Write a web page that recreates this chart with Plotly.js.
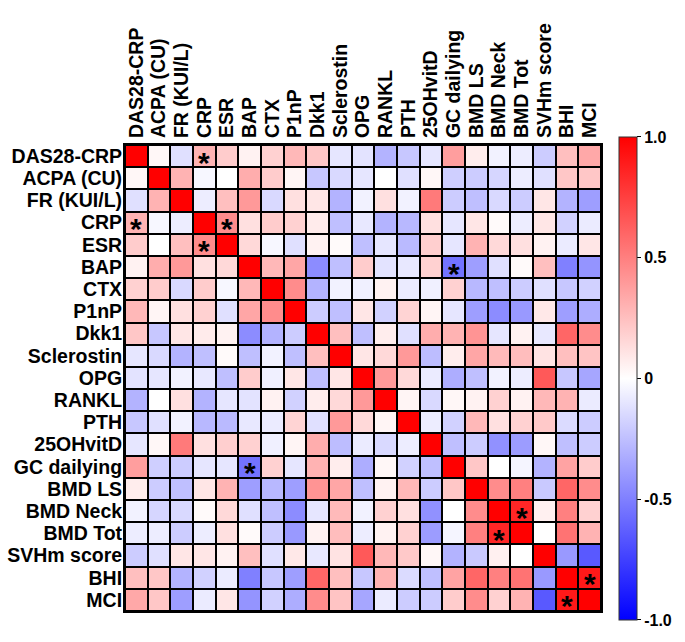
<!DOCTYPE html>
<html><head><meta charset="utf-8">
<script src="https://cdn.plot.ly/plotly-3.0.1.min.js"></script>
<style>html,body{margin:0;padding:0;background:#fff;}#chart{width:685px;height:642px;}</style>
</head><body><div id="chart"></div>
<script>
const labels = ["DAS28-CRP","ACPA (CU)","FR (KUI/L)","CRP","ESR","BAP","CTX","P1nP","Dkk1","Sclerostin","OPG","RANKL","PTH","25OHvitD","GC dailying","BMD LS","BMD Neck","BMD Tot","SVHm score","BHI","MCI"];

// correlation matrix, rows in label order
const rDAS28  = [1.00, 0.03,-0.12, 0.30, 0.20, 0.05, 0.18, 0.28, 0.22,-0.10,-0.11,-0.30,-0.22,-0.10, 0.38, 0.07,-0.05,-0.07,-0.20, 0.25, 0.34];
const rACPA   = [0.03, 1.00, 0.30,-0.03, 0.00, 0.32, 0.20, 0.04,-0.22,-0.15,-0.10, 0.00,-0.12, 0.03,-0.19,-0.20,-0.16,-0.07,-0.12, 0.22, 0.22];
const rFR     = [-0.12, 0.30, 1.00,-0.07, 0.25, 0.40,-0.15, 0.12, 0.10,-0.30,-0.05, 0.12,-0.05, 0.52,-0.20,-0.25,-0.15,-0.20, 0.10,-0.30,-0.38];
const rCRP    = [0.30,-0.03,-0.07, 1.00, 0.45, 0.12, 0.20, 0.18, 0.08,-0.25,-0.09,-0.30,-0.28, 0.12,-0.10, 0.10, 0.02,-0.07, 0.10,-0.18,-0.08];
const rESR    = [0.20, 0.00, 0.25, 0.45, 1.00, 0.15,-0.03,-0.12, 0.05, 0.02,-0.25,-0.10,-0.27, 0.19,-0.10, 0.30, 0.15, 0.12, 0.05,-0.08, 0.10];
const rBAP    = [0.05, 0.32, 0.40, 0.12, 0.15, 1.00, 0.28, 0.35,-0.45,-0.25, 0.20,-0.11,-0.09, 0.18,-0.55,-0.38,-0.12, 0.02, 0.25,-0.50,-0.42];
const rCTX    = [0.18, 0.20,-0.15, 0.20,-0.03, 0.28, 1.00, 0.45,-0.30,-0.05,-0.06, 0.05,-0.08,-0.06, 0.18,-0.28,-0.25,-0.20,-0.12,-0.22,-0.18];
const rP1nP   = [0.28, 0.04, 0.12, 0.18,-0.12, 0.35, 0.45, 1.00,-0.20,-0.25, 0.10,-0.18, 0.17, 0.04,-0.10,-0.38,-0.45,-0.40, 0.09,-0.38,-0.32];
const rDkk1   = [0.22,-0.22, 0.10, 0.08, 0.05,-0.45,-0.30,-0.20, 1.00, 0.25,-0.25, 0.07,-0.12, 0.32, 0.30, 0.42,-0.10, 0.05,-0.09, 0.60, 0.45];
const rScl    = [-0.10,-0.15,-0.30,-0.25, 0.02,-0.25,-0.05,-0.25, 0.25, 1.00, 0.10, 0.15, 0.40,-0.26, 0.07, 0.35, 0.27, 0.26, 0.11, 0.25, 0.23];
const rOPG    = [-0.11,-0.10,-0.05,-0.09,-0.25, 0.20,-0.06, 0.10,-0.25, 0.10, 1.00, 0.40, 0.15,-0.08,-0.32,-0.25,-0.05,-0.07, 0.65,-0.22,-0.35];
const rRANKL  = [-0.30, 0.00, 0.12,-0.30,-0.10,-0.11, 0.05,-0.18, 0.07, 0.15, 0.40, 1.00, 0.04,-0.15, 0.03, 0.05, 0.18, 0.05, 0.28, 0.30,-0.08];
const rPTH    = [-0.22,-0.12,-0.05,-0.28,-0.27,-0.09,-0.08, 0.17,-0.12, 0.40, 0.15, 0.04, 1.00,-0.07,-0.18, 0.28, 0.12, 0.18, 0.21,-0.14,-0.20];
const r25OH   = [-0.10, 0.03, 0.52, 0.12, 0.19, 0.18,-0.06, 0.04, 0.32,-0.26,-0.08,-0.15,-0.07, 1.00,-0.25,-0.20,-0.43,-0.39, 0.03,-0.25,-0.20];
const rGC     = [0.38,-0.19,-0.20,-0.10,-0.10,-0.55, 0.18,-0.10, 0.30, 0.07,-0.32, 0.03,-0.18,-0.25, 1.00, 0.22, 0.00,-0.04,-0.30, 0.36, 0.20];
const rBMDLS  = [0.07,-0.20,-0.25, 0.10, 0.30,-0.38,-0.28,-0.38, 0.42, 0.35,-0.25, 0.05, 0.28,-0.20, 0.22, 1.00, 0.45, 0.50,-0.21, 0.60, 0.45];
const rBMDNk  = [-0.05,-0.16,-0.15, 0.02, 0.15,-0.12,-0.25,-0.45,-0.10, 0.27,-0.05, 0.18, 0.12,-0.43, 0.00, 0.45, 1.00, 0.85, 0.06, 0.50, 0.18];
const rBMDTot = [-0.07,-0.07,-0.20,-0.07, 0.12, 0.02,-0.20,-0.40, 0.05, 0.26,-0.07, 0.05, 0.18,-0.39,-0.04, 0.50, 0.85, 1.00, 0.00, 0.55, 0.30];
const rSVHm   = [-0.20,-0.12, 0.10, 0.10, 0.05, 0.25,-0.12, 0.09,-0.09, 0.11, 0.65, 0.28, 0.21, 0.03,-0.30,-0.21, 0.06, 0.00, 1.00,-0.40,-0.65];
const rBHI    = [0.25, 0.22,-0.30,-0.18,-0.08,-0.50,-0.22,-0.38, 0.60, 0.25,-0.22, 0.30,-0.14,-0.25, 0.36, 0.60, 0.50, 0.55,-0.40, 1.00, 0.90];
const rMCI    = [0.34, 0.22,-0.38,-0.08, 0.10,-0.42,-0.18,-0.32, 0.45, 0.23,-0.35,-0.08,-0.20,-0.20, 0.20, 0.45, 0.18, 0.30,-0.65, 0.90, 1.00];

const z = [rDAS28,rACPA,rFR,rCRP,rESR,rBAP,rCTX,rP1nP,rDkk1,rScl,rOPG,rRANKL,rPTH,r25OH,rGC,rBMDLS,rBMDNk,rBMDTot,rSVHm,rBHI,rMCI];

// significant pairs [row, column]
const stars = [["DAS28-CRP","CRP"],["CRP","DAS28-CRP"],["CRP","ESR"],["ESR","CRP"],["BAP","GC dailying"],["GC dailying","BAP"],["BMD Neck","BMD Tot"],["BMD Tot","BMD Neck"],["BHI","MCI"],["MCI","BHI"]];

const colorbarTicks = [-1, -0.5, 0, 0.5, 1];
const colorbarTickText = ["-1.0","-0.5","0","0.5","1.0"];

const font = "Liberation Sans, Arial, sans-serif";
const n = labels.length;

const trace = {
  type: "heatmap",
  x: labels, y: labels, z: z,
  zmin: -1, zmax: 1,
  colorscale: [[0,"rgb(0,0,255)"],[0.5,"rgb(255,255,255)"],[1,"rgb(255,0,0)"]],
  xgap: 2, ygap: 2,
  hoverinfo: "skip",
  colorbar: {
    x: 1.038, xanchor: "left", xpad: 0,
    y: 0.499, yanchor: "middle", ypad: 0,
    len: 483, lenmode: "pixels",
    thickness: 18, thicknessmode: "pixels",
    outlinewidth: 1, outlinecolor: "#333",
    tickvals: colorbarTicks, ticktext: colorbarTickText,
    ticks: "outside", ticklen: 4, tickcolor: "#000",
    tickfont: {family: font, size: 16, color: "#000", weight: "bold"}
  }
};

const annotations = stars.map(([r, c]) => ({
  x: c, y: r, xref: "x", yref: "y", text: "*", showarrow: false,
  font: {family: font, size: 30, color: "#000", weight: "bold"},
  yshift: -6
}));

const layout = {
  width: 685, height: 642,
  margin: {l: 125, r: 84, t: 145, b: 31},
  paper_bgcolor: "#fff", plot_bgcolor: "#000",
  xaxis: {side: "top", tickangle: -90, ticks: "", showgrid: false, zeroline: false,
          type: "category", tickmode: "array", tickvals: labels, ticktext: labels,
          range: [-0.5, n - 0.5], autorange: false,
          tickfont: {family: font, size: 19.5, color: "#000", weight: "bold"},
          showline: true, mirror: true, linecolor: "#000", linewidth: 2, ticklabelstandoff: 1},
  yaxis: {ticks: "", showgrid: false, zeroline: false,
          type: "category", tickmode: "array", tickvals: labels, ticktext: labels,
          range: [n - 0.5, -0.5], autorange: false,
          tickfont: {family: font, size: 19.5, color: "#000", weight: "bold"},
          showline: true, mirror: true, linecolor: "#000", linewidth: 2, ticklabelstandoff: -3},
  annotations: annotations,
  showlegend: false
};

Plotly.newPlot("chart", [trace], layout, {displayModeBar: false, staticPlot: true});
</script></body></html>
